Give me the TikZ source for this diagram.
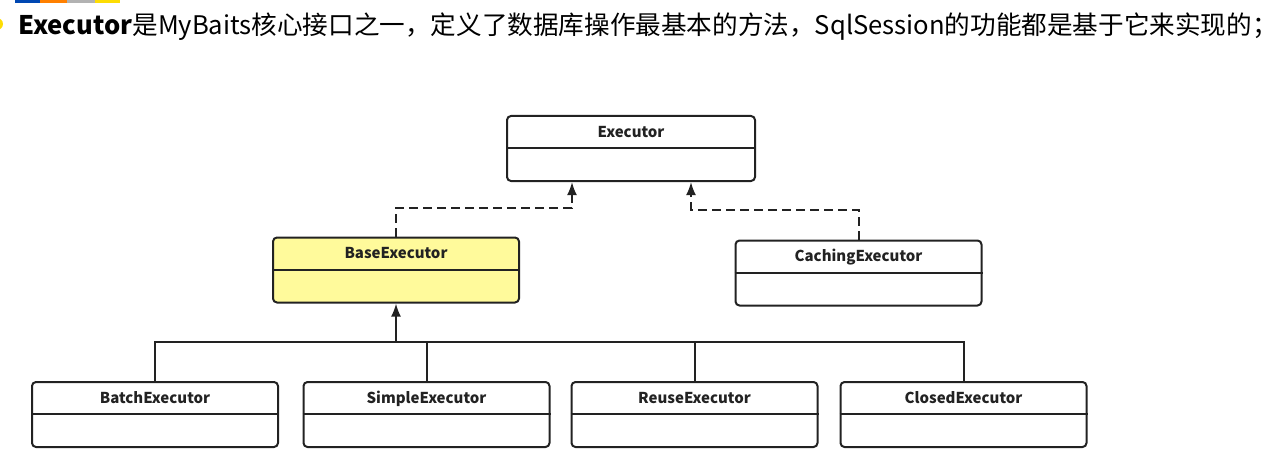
\documentclass[tikz,border=0pt]{standalone}
\usepackage{fontspec}
\setmainfont{Noto Sans CJK SC}
\usetikzlibrary{arrows.meta}
\definecolor{umlline}{HTML}{222222}
\definecolor{umlyellow}{RGB}{255,250,155}
\tikzset{
  classbox/.style={draw=umlline, line width=1pt, rounded corners=2pt, fill=white,
    minimum width=123pt, minimum height=32.5pt, inner sep=0pt},
  classname/.style={font=\fontsize{7.5pt}{9pt}\selectfont\bfseries, text=umlline,
    inner sep=0pt, anchor=base},
  realize/.style={draw=umlline, line width=1pt, dash pattern=on 4.5pt off 2.5pt,
    -{Latex[length=6.5pt,width=5pt]}},
  inherit/.style={draw=umlline, line width=1pt, -{Latex[length=6.5pt,width=5pt]}},
  bus/.style={draw=umlline, line width=1pt}
}
\begin{document}
\begin{tikzpicture}[x=0.5pt, y=-0.5pt]
  \useasboundingbox (0,0) rectangle (1273,476);

  % slide decoration
  \fill[blue!60!cyan!70!black] (15,0) rectangle (40,3);
  \fill[orange] (40,0) rectangle (67,3);
  \fill[gray!60] (67,0) rectangle (95,3);
  \fill[yellow!80!orange] (95,0) rectangle (120,3);
  \fill[yellow!80!orange] (-3,24) circle (3pt);

  % heading
  \node[anchor=base west, inner sep=0pt, font=\fontsize{12.8pt}{15pt}\selectfont] (title) at (18,35)
    {\textbf{Executor}是MyBaits核心接口之一，定义了数据库操作最基本的方法，SqlSession的功能都是基于它来实现的；};

  % classes
  \node[classbox, minimum width=124pt] (exec) at (631,148.5) {};
  \node[classbox, fill=umlyellow] (base) at (396,270) {};
  \node[classbox] (cach) at (858.5,273) {};
  \node[classbox] (batch) at (155,414.5) {};
  \node[classbox] (simple) at (426.5,414.5) {};
  \node[classbox] (reuse) at (694.5,414.5) {};
  \node[classbox] (closed) at (963.5,414.5) {};

  \foreach \n/\t in {exec/Executor, base/BaseExecutor, cach/CachingExecutor,
      batch/BatchExecutor, simple/SimpleExecutor, reuse/ReuseExecutor, closed/ClosedExecutor} {
    \draw[bus] ([yshift=-16.5pt]\n.north west) -- ([yshift=-16.5pt]\n.north east);
    \node[classname] (\n-name) at ([yshift=-11pt]\n.north) {\t};
  }

  % interface realisation
  \draw[realize] (base.north) -- ++(0,-29) -| ([xshift=-29.5pt]exec.south);
  \draw[realize] (cach.north) -- ++(0,-30) -| ([xshift=30pt]exec.south);

  % subclasses of BaseExecutor
  \coordinate (junction) at (396,342);
  \draw[inherit] (junction) -- (base.south);
  \draw[bus] (batch.north) |- (junction) -| (closed.north);
  \foreach \n in {simple,reuse}
    \draw[bus] (\n.north) -- (\n.north |- junction);
\end{tikzpicture}
\end{document}
